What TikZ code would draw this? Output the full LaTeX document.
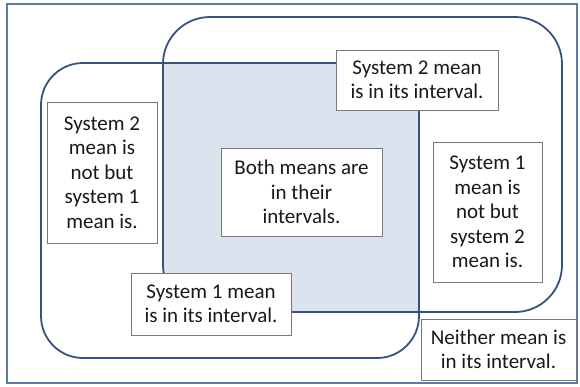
\documentclass[tikz,border=0pt]{standalone}
\usepackage{fontspec}
\setmainfont{Carlito}
\definecolor{framecol}{RGB}{96,124,166}
\definecolor{setcol}{RGB}{56,82,128}
\definecolor{bothfill}{RGB}{219,227,238}
\definecolor{boxline}{RGB}{120,120,120}
\tikzset{
  lbl/.style={draw=boxline, line width=0.9pt, fill=white, align=center, inner sep=0pt,
              font=\fontsize{21}{24.5}\selectfont, text=black!90},
  setline/.style={draw=setcol, line width=1.8pt}
}
\begin{document}
\begin{tikzpicture}[x=1pt,y=-1pt]
\useasboundingbox (0,0) rectangle (580,386);
% outer frame
\draw[framecol, line width=1.4pt] (7,4) rectangle (577,383);
% overlap of the two sets
\begin{scope}
  \clip[rounded corners=42pt] (41,63) rectangle (419,358);
  \fill[bothfill, rounded corners=47pt] (163,17) rectangle (562,312);
\end{scope}
% set outlines
\draw[setline, rounded corners=42pt] (41,63) rectangle (419,358);
\draw[setline, rounded corners=47pt] (163,17) rectangle (562,312);
% labels
\node[lbl, minimum width=110pt, minimum height=141pt] (only2) at (102,172.5)
  {System 2\\mean is\\not but\\system 1\\mean is.};
\node[lbl, minimum width=161pt, minimum height=88pt] (both) at (301.5,192)
  {Both means are\\in their\\intervals.};
\node[lbl, minimum width=162pt, minimum height=60pt] (in2) at (417,80)
  {System 2 mean\\is in its interval.};
\node[lbl, minimum width=109pt, minimum height=140pt] (only1) at (487.5,212)
  {System 1\\mean is\\not but\\system 2\\mean is.};
\node[lbl, minimum width=160pt, minimum height=62pt] (in1) at (211,304)
  {System 1 mean\\is in its interval.};
\node[lbl, minimum width=155pt, minimum height=61pt] (neither) at (498.5,349.5)
  {Neither mean is\\in its interval.};
\end{tikzpicture}
\end{document}
